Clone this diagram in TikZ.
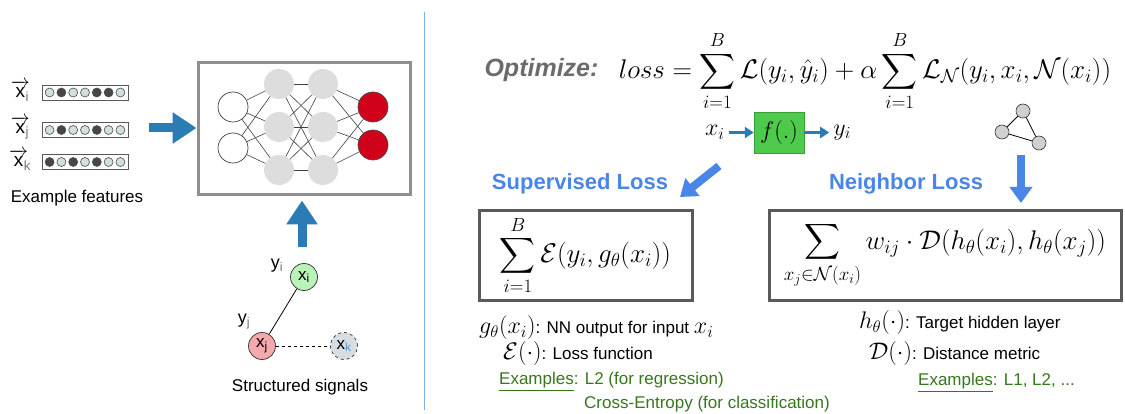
\RequirePackage{fix-cm}
\documentclass[tikz,border=0pt]{standalone}
\usepackage{amsmath}
\usepackage[no-math]{fontspec}
\setmainfont{Liberation Sans}
\setsansfont{Liberation Sans}
\usetikzlibrary{positioning,arrows.meta,calc}
\definecolor{steel}{HTML}{2B7BB5}
\definecolor{gblue}{HTML}{4A86E8}
\definecolor{sepblue}{HTML}{7AAEF2}
\definecolor{nngray}{HTML}{8E8E93}
\definecolor{lossgray}{HTML}{5A5A5A}
\definecolor{hidgray}{HTML}{DDDDDD}
\definecolor{outred}{HTML}{D0021B}
\definecolor{nodeG}{HTML}{B9F3B8}
\definecolor{nodeP}{HTML}{F5A9AC}
\definecolor{nodeK}{HTML}{D6DEE1}
\definecolor{dotL}{HTML}{D3DEE0}
\definecolor{dotD}{HTML}{474747}
\definecolor{tgray}{HTML}{D0D0D0}
\definecolor{fgreen}{HTML}{4FC94C}
\definecolor{fgreenD}{HTML}{3A9F37}
\definecolor{egreen}{HTML}{38761D}
\definecolor{optgray}{HTML}{6B6B6B}
\newcommand{\fmath}[1]{{\fontsize{27}{30}\selectfont$\displaystyle #1$}}
\newcommand{\nmath}[1]{{\fontsize{24}{26}\selectfont$#1$}}
\newcommand{\vecx}[1]{$\overrightarrow{\text{x}}\mkern-4mu_{\text{\color{black!55}#1}}$}
\begin{document}
\begin{tikzpicture}[
      x=1pt, y=-1pt,
      font=\fontsize{17}{19}\selectfont,
      fbar/.style={draw=black!65, fill=white, minimum width=86pt, minimum height=15pt, inner sep=0pt},
      dot/.style={circle, draw=black!70, line width=0.6pt, minimum size=9pt, inner sep=0pt},
      nnbox/.style={draw=nngray, line width=3pt, minimum width=212pt, minimum height=132pt},
      neur/.style={circle, minimum size=30pt, inner sep=0pt},
      inneur/.style={neur, draw=black!75, fill=white, line width=0.7pt},
      hidneur/.style={neur, fill=hidgray},
      outneur/.style={neur, draw=black!70, fill=outred, line width=0.7pt},
      wire/.style={draw=black!75, line width=0.6pt},
      bigarr/.style={draw=steel, line width=9pt, -{Triangle[width=30pt,length=24pt]}},
      gnode/.style={circle, draw=black!80, minimum size=27pt, inner sep=0pt, line width=0.7pt, font=\fontsize{17}{19}\selectfont},
      tnode/.style={circle, draw=black!80, fill=tgray, minimum size=14pt, inner sep=0pt, line width=0.6pt},
      lossbox/.style={draw=lossgray, line width=3pt, minimum height=89pt, inner sep=0pt},
      head/.style={font=\fontsize{22}{24}\selectfont\bfseries, text=gblue},
      gbarr/.style={draw=gblue, line width=8pt, -{Triangle[width=22pt,length=16pt]}},
      farr/.style={draw=steel, line width=3.5pt, -{Triangle[width=11pt,length=9pt]}},
      note/.style={anchor=west, inner sep=0pt},
      eg/.style={note, text=egreen}
    ]
    \useasboundingbox (0,0) rectangle (1125,414);

    % feature vectors
    \node[fbar] (fbi) at (85,92.5) {};
    \node[fbar] (fbj) at (85,130) {};
    \node[fbar] (fbk) at (85,162) {};
    \foreach \f [count=\n] in {dotL,dotD,dotL,dotL,dotD,dotD,dotL}
      \node[dot, fill=\f] at ($(fbi)+({(\n-4)*11.8},0)$) {};
    \foreach \f [count=\n] in {dotL,dotD,dotL,dotL,dotD,dotL,dotL}
      \node[dot, fill=\f] at ($(fbj)+({(\n-4)*11.8},0)$) {};
    \foreach \f [count=\n] in {dotD,dotL,dotD,dotL,dotD,dotL,dotL}
      \node[dot, fill=\f] at ($(fbk)+({(\n-4)*11.8},0)$) {};
    \node[font=\fontsize{19}{21}\selectfont, inner sep=1pt] (lxi) at (20,91) {\vecx{i}};
    \node[font=\fontsize{19}{21}\selectfont, inner sep=1pt] (lxj) at (20,128) {\vecx{j}};
    \node[font=\fontsize{19}{21}\selectfont, inner sep=1pt] (lxk) at (20,160) {\vecx{k}};
    \node (featl) at (77,198) {Example features};

    % network
    \node[nnbox] (nn) at (304,129) {};
    \node[inneur] (in1) at (233,107) {};
    \node[inneur] (in2) at (233,148) {};
    \foreach \y [count=\n] in {84,127,170} {
      \node[hidneur] (ha\n) at (279,\y) {};
      \node[hidneur] (hb\n) at (323,\y) {};
    }
    \node[outneur] (out1) at (373,107) {};
    \node[outneur] (out2) at (373,145) {};
    \foreach \a in {1,2} \foreach \b in {1,2,3} \draw[wire] (in\a) -- (ha\b);
    \foreach \a in {1,2,3} \foreach \b in {1,2,3} \draw[wire] (ha\a) -- (hb\b);
    \foreach \a in {1,2,3} \foreach \b in {1,2} \draw[wire] (hb\a) -- (out\b);

    \coordinate (fa) at (149,128);
    \draw[bigarr] (fa) -- (fa -| nn.west);
    \coordinate (sa) at (302,247);
    \draw[bigarr] (sa) -- ($(sa |- nn.south)+(0,4)$);

    % structured signals
    \node[gnode, fill=nodeG] (gi) at (304,277) {x\textsubscript{i}};
    \node[gnode, fill=nodeP] (gj) at (262,346) {x\textsubscript{j}};
    \node[gnode, fill=nodeK, dashed] (gk) at (344,346) {x\textsubscript{\color{steel!80}k}};
    \node[font=\fontsize{18}{20}\selectfont] (lyi) at (277,266) {y\textsubscript{\color{black!55}i}};
    \node[font=\fontsize{18}{20}\selectfont] (lyj) at (244,322) {y\textsubscript{\color{black!55}j}};
    \draw[line width=0.8pt] (gi) -- (gj);
    \draw[line width=0.8pt, dashed] (gj) -- (gk);
    \node (sigl) at (300,387) {Structured signals};

    % separator
    \coordinate (sept) at (424,12);
    \coordinate (sepb) at (424,410);
    \draw[sepblue, line width=1pt] (sept) -- (sepb);

    % objective
    \node[font=\fontsize{25}{28}\selectfont\bfseries\itshape, text=optgray, anchor=west] (opt) at (481,70) {Optimize:};
    \node (lossf) at (865,71) {\fmath{loss = \sum_{i=1}^{B}\mathcal{L}(y_i,\hat{y}_i) + \alpha\sum_{i=1}^{B}\mathcal{L}_{\mathcal{N}}(y_i,x_i,\mathcal{N}(x_i))}};
    \node[draw=fgreenD, fill=fgreen, minimum width=50pt, minimum height=41pt, inner sep=0pt] (fbox) at (779,132.5) {\nmath{f(.)}};
    \node[inner sep=4pt, left=25pt of fbox] (xin) {\nmath{x_i}};
    \node[inner sep=4pt, right=25pt of fbox] (yout) {\nmath{y_i}};
    \draw[farr] (xin) -- (fbox);
    \draw[farr] (fbox) -- (yout);

    \node[tnode] (ta) at (1023,111) {};
    \node[tnode] (tb) at (1002,132) {};
    \node[tnode] (tc) at (1039,143) {};
    \draw[line width=0.8pt] (ta) -- (tb) -- (tc) -- (ta);

    \coordinate (sarr1) at (719,166);
    \coordinate (sarr2) at (680,197);
    \draw[gbarr] (sarr1) -- (sarr2);
    \coordinate (narr1) at (1021,155);
    \coordinate (narr2) at (1021,203);
    \draw[gbarr] (narr1) -- (narr2);

    % losses
    \node[head] (suph) at (580,184) {Supervised Loss};
    \node[head] (nbh) at (906,184) {Neighbor Loss};
    \node[lossbox, minimum width=213pt] (supbox) at (585.5,255.5) {\fmath{\sum_{i=1}^{B}\mathcal{E}(y_i,g_\theta(x_i))}};
    \node[lossbox, minimum width=352pt] (nbbox) at (945,255.5) {\fmath{\sum_{x_j\in\mathcal{N}(x_i)} w_{ij}\cdot\mathcal{D}(h_\theta(x_i),h_\theta(x_j))}};

    % notes
    \node[note] (gnote) at (479,328) {\nmath{g_\theta(x_i)}: NN output for input \nmath{x_i}};
    \node[note] (enote) at (503,353) {\nmath{\mathcal{E}(\cdot)}: Loss function};
    \node[eg] (exa) at (499,382) {\underline{Examples}: L2 (for regression)};
    \node[eg] (exb) at (584,404) {Cross-Entropy (for classification)};
    \node[note] (hnote) at (859,323) {\nmath{h_\theta(\cdot)}: Target hidden layer};
    \node[note] (dnote) at (869,353) {\nmath{\mathcal{D}(\cdot)}: Distance metric};
    \node[eg] (exc) at (918,383) {\underline{Examples}: L1, L2, ...};
  \end{tikzpicture}
\end{document}
